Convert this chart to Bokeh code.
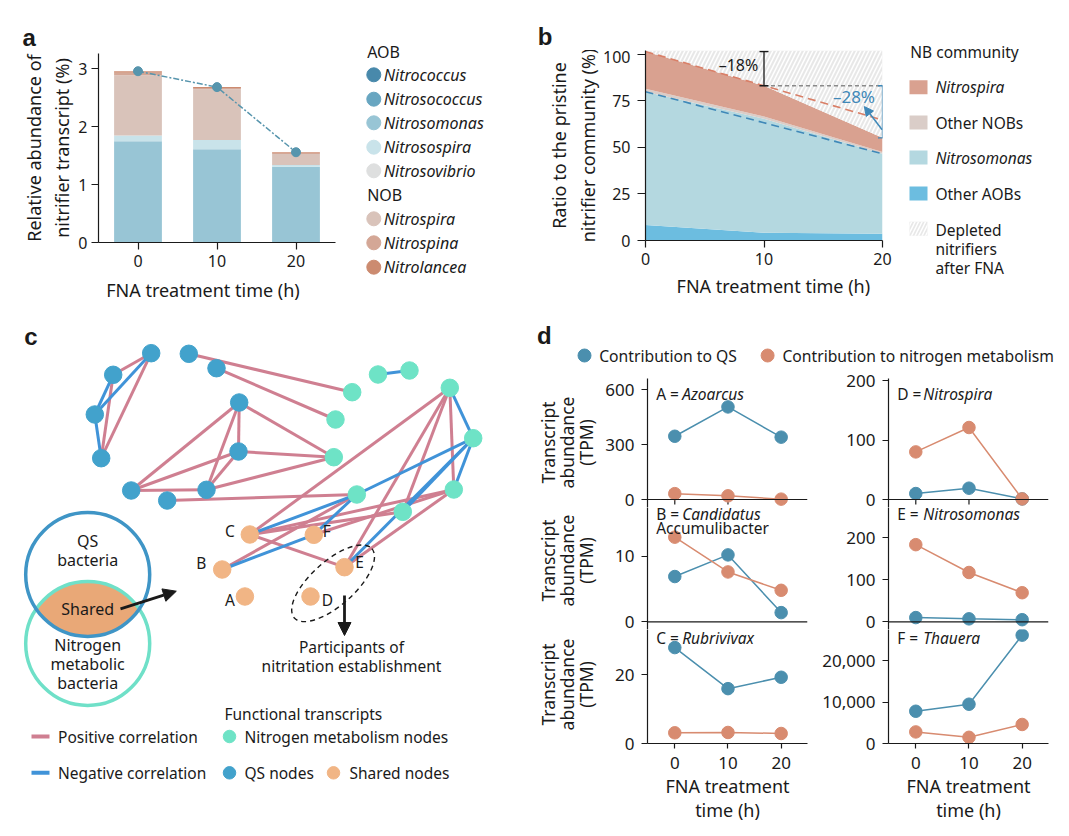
import numpy as np
from bokeh.plotting import figure
from bokeh.layouts import row, column
from bokeh.models import (Range1d, FixedTicker, NumeralTickFormatter, Span, Label,
                          Arrow, NormalHead, TeeHead, ColumnDataSource)
from bokeh.core.properties import value
from bokeh.embed import file_html
from bokeh.resources import INLINE

FONT = "Noto Sans"
LETTER_FONT = "Liberation Sans"
INK = "#1a1a1a"
NBSP = "\u00a0"

# ---------------- Panel a data ----------------
a_time = [0, 10, 20]
a_species = ["Nitrococcus", "Nitrosococcus", "Nitrosomonas", "Nitrosospira", "Nitrosovibrio",
             "Nitrospira", "Nitrospina", "Nitrolancea"]
a_nitrococcus = [0.0, 0.0, 0.0]
a_nitrosococcus = [0.0, 0.0, 0.0]
a_nitrosomonas = [1.75, 1.61, 1.31]
a_nitrosospira = [0.10, 0.16, 0.03]
a_nitrosovibrio = [0.0, 0.0, 0.0]
a_nitrospira = [1.04, 0.88, 0.19]
a_nitrospina = [0.045, 0.02, 0.015]
a_nitrolancea = [0.025, 0.015, 0.015]
a_colors = ["#4889ab", "#68a6c1", "#98c5d5", "#c9e3ea", "#dedfdf", "#d9c3ba", "#d4a796", "#cc8b70"]
a_yticks = [0, 1, 2, 3]

# ---------------- Panel b data ----------------
b_time = [0, 10, 20]
b_other_aob = [8.4, 4.1, 3.6]
b_nitrosomonas = [71.6, 61.3, 43.0]
b_other_nob = [1.6, 1.2, 1.0]
b_nitrospira = [20.0, 16.6, 7.6]
b_labels = ["Nitrospira", "Other NOBs", "Nitrosomonas", "Other AOBs"]
b_colors = ["#d9a190", "#dacdc8", "#b4d8e0", "#6cbde0"]
b_yticks = [0, 25, 50, 75, 100]
b_drop_texts = ["\u201318%", "\u201328%"]

# ---------------- Panel c data ----------------
node_name = ["Q1", "Q2", "Q3", "Q4", "Q5", "Q6", "Q7", "Q8", "Q9", "Q10", "Q11",
             "N1", "N2", "N3", "N4", "N5", "N6", "N7", "N8", "N9", "N10",
             "A", "B", "C", "D", "E", "F"]
node_x = [150.7, 112.7, 94.3, 100.7, 188.3, 216.0, 238.7, 238.0, 130.7, 166.7, 206.0,
          351.7, 335.0, 377.5, 409.0, 333.3, 449.3, 472.7, 356.3, 453.3, 402.3,
          244.4, 221.7, 249.3, 310.0, 344.0, 313.3]
node_y = [352.7, 374.3, 414.0, 457.7, 353.3, 367.7, 402.0, 451.0, 490.0, 500.0, 489.3,
          391.7, 419.0, 374.0, 370.0, 456.7, 387.3, 437.7, 494.0, 489.0, 511.3,
          596.0, 569.0, 534.0, 596.0, 566.7, 534.3]
node_kind = ["qs"] * 11 + ["nitrogen"] * 10 + ["shared"] * 6
pos_edges = [("Q1", "Q2"), ("Q1", "Q4"), ("Q2", "Q4"),
             ("Q5", "N1"), ("Q6", "N2"),
             ("Q7", "Q8"), ("Q7", "N5"), ("Q7", "Q9"), ("Q7", "Q11"), ("Q8", "N5"),
             ("Q8", "Q9"), ("Q8", "Q11"), ("Q9", "Q11"), ("Q11", "N5"), ("Q10", "N8"),
             ("N6", "C"), ("N6", "N9"), ("N6", "E"), ("N6", "N10"),
             ("C", "N9"), ("C", "N10"), ("C", "E"), ("B", "N8"), ("E", "N9"), ("F", "N9")]
neg_edges = [("Q1", "Q3"), ("Q2", "Q3"), ("Q3", "Q4"), ("N3", "N4"),
             ("N6", "N7"), ("N7", "N8"), ("N7", "N9"), ("N7", "E"), ("N7", "N10"),
             ("N8", "C"), ("B", "F"), ("F", "N8")]
shared_labels = ["A", "B", "C", "D", "E", "F"]

# ---------------- Panel d data ----------------
d_time = [0, 10, 20]
A_qs = [345, 505, 340]
A_nit = [32, 20, 2]
B_qs = [6.9, 10.2, 1.4]
B_nit = [12.9, 7.6, 4.8]
C_qs = [27.8, 15.9, 19.2]
C_nit = [3.1, 3.2, 2.9]
D_qs = [10, 19, 1]
D_nit = [80, 121, 1]
E_qs = [10, 7, 5]
E_nit = [183, 117, 69]
F_qs = [7800, 9500, 26200]
F_nit = [2800, 1500, 4600]
d_ylabel = ["Transcript", "abundance", "(TPM)"]

QS_C = "#4b8fae"
NIT_C = "#d88b70"


def style_axis(ax, tick_px, label_px, tick_out, standoff, label_standoff, line_h=1.2):
    ax.axis_line_color = INK
    ax.axis_line_width = 1.2
    ax.major_tick_line_color = INK
    ax.major_tick_line_width = 1.2
    ax.major_tick_in = 0
    ax.major_tick_out = tick_out
    ax.minor_tick_line_color = None
    ax.major_label_text_font = FONT
    ax.major_label_text_font_size = f"{tick_px}px"
    ax.major_label_text_color = INK
    ax.major_label_standoff = standoff
    ax.axis_label_text_font = FONT
    ax.axis_label_text_font_size = f"{label_px}px"
    ax.axis_label_text_font_style = "normal"
    ax.axis_label_text_color = INK
    ax.axis_label_standoff = label_standoff
    ax.axis_label_text_line_height = line_h


def clean(p):
    p.outline_line_color = None
    p.xgrid.visible = False
    p.ygrid.visible = False


def canvas(x0, x1, y0, y1):
    p = figure(width=x1 - x0, height=y1 - y0, x_range=Range1d(x0, x1), y_range=Range1d(y1, y0),
               x_axis_location=None, y_axis_location=None, min_border=0,
               output_backend="svg", toolbar_location=None)
    clean(p)
    return p


def txt(p, x, y, s, size=16, align="left", color=INK, style="normal", font=FONT, angle=0.0):
    p.text(x=[x], y=[y], text=[s], text_font=value(font), text_font_size=value(f"{size}px"),
           text_align=align, text_baseline="middle", text_color=color, text_font_style=style,
           angle=angle)


def lab(p, x, y, s, size=16, align="left", color=INK, style="normal", font=FONT, x_offset=0):
    p.add_layout(Label(x=x, y=y, text=s, text_font=font, text_font_size=f"{size}px",
                       text_align=align, text_baseline="middle", text_color=color,
                       text_font_style=style, x_offset=x_offset))


# ======================= Panel a =======================
strip_a = canvas(0, 350, 0, 53)
txt(strip_a, 28.7, 37.0, "a", 24, align="center", style="bold", font=LETTER_FONT)

pa = figure(frame_width=237, frame_height=189, x_range=Range1d(-5, 25), y_range=Range1d(0, 3.266),
            min_border_left=98, min_border_right=15, min_border_top=0, min_border_bottom=74,
            output_backend="svg", toolbar_location=None)
clean(pa)
src_a = ColumnDataSource(dict(t=a_time, Nitrococcus=a_nitrococcus, Nitrosococcus=a_nitrosococcus,
                              Nitrosomonas=a_nitrosomonas, Nitrosospira=a_nitrosospira,
                              Nitrosovibrio=a_nitrosovibrio, Nitrospira=a_nitrospira,
                              Nitrospina=a_nitrospina, Nitrolancea=a_nitrolancea))
pa.vbar_stack(a_species, x="t", width=6.05, color=a_colors, line_color=None, source=src_a)
a_total = np.sum([a_nitrococcus, a_nitrosococcus, a_nitrosomonas, a_nitrosospira, a_nitrosovibrio,
                  a_nitrospira, a_nitrospina, a_nitrolancea], axis=0)
pa.line(a_time, a_total, line_color="#5795ad", line_width=1.5, line_dash="6 2 2 2")
pa.scatter(a_time, a_total, size=9, color="#5795ad")
pa.xaxis.ticker = FixedTicker(ticks=a_time)
pa.yaxis.ticker = FixedTicker(ticks=a_yticks)
pa.xaxis.axis_label = "FNA treatment time (h)" + NBSP * 6
pa.yaxis.axis_label = "Relative abundance of\nnitrifier transcript (%)"
style_axis(pa.xaxis[0], 16, 18, 7, 5, 8)
style_axis(pa.yaxis[0], 16, 18, 7, 4, 1)

# legend a
pal = canvas(350, 530, 0, 316)
txt(pal, 366.7, 51, "AOB", 16)
txt(pal, 366.7, 194.3, "NOB", 16)
leg_a_y = [74.3, 98.7, 122.3, 146.7, 170.3, 218.3, 242.3, 266.7]
pal.scatter([373.3] * 8, leg_a_y, size=14, color=a_colors)
for yy, s in zip(leg_a_y, a_species):
    txt(pal, 383.3, yy, s, 16, style="italic")

# ======================= Panel b =======================
strip_b = canvas(530, 897, 0, 50)
txt(strip_b, 544.6, 36.0, "b", 24, align="center", style="bold", font=LETTER_FONT)

pb = figure(frame_width=237, frame_height=190, x_range=Range1d(0, 20), y_range=Range1d(0, 102.15),
            min_border_left=115, min_border_right=15, min_border_top=0, min_border_bottom=76,
            output_backend="svg", toolbar_location=None)
clean(pb)
src_b = ColumnDataSource(dict(t=b_time, other_aob=b_other_aob, nitrosomonas=b_nitrosomonas,
                              other_nob=b_other_nob, nitrospira=b_nitrospira))
pb.varea_stack(["other_aob", "nitrosomonas", "other_nob", "nitrospira"], x="t",
               color=[b_colors[3], b_colors[2], b_colors[1], b_colors[0]], source=src_b)
b_total = np.array(b_other_aob) + np.array(b_nitrosomonas) + np.array(b_other_nob) + np.array(b_nitrospira)
b_aob_top = np.array(b_other_aob) + np.array(b_nitrosomonas)
pb.varea(x=b_time, y1=b_total, y2=[pb.y_range.end] * 3, fill_color="#e8e8e8", fill_alpha=1.0)
pb.varea(x=b_time, y1=b_total, y2=[pb.y_range.end] * 3, fill_alpha=0.0,
         hatch_pattern="/", hatch_color="white", hatch_weight=1.5, hatch_scale=8)
b_proj = [b_total[0], b_total[0] + 2 * (b_total[1] - b_total[0])]
pb.line([b_time[0], b_time[2]], b_proj, line_color="#d97f67", line_width=1.6, line_dash="8 5")
pb.line([b_time[0], b_time[2]], [b_aob_top[0], b_aob_top[2]], line_color="#3f88b8",
        line_width=1.6, line_dash="8 5")
pb.line([b_time[1], b_time[2]], [b_total[1], b_total[1]], line_color="#8a8a8a", line_width=1.3,
        line_dash="4 3")
pb.add_layout(Arrow(start=TeeHead(size=9, line_width=1.3, line_color=INK),
                    end=TeeHead(size=9, line_width=1.3, line_color=INK),
                    x_start=b_time[1], y_start=b_total[0], x_end=b_time[1], y_end=b_total[1],
                    line_color=INK, line_width=1.3))
pb.add_layout(Arrow(start=TeeHead(size=9, line_width=1.3, line_color="#3f88b8"),
                    end=TeeHead(size=9, line_width=1.3, line_color="#3f88b8"),
                    x_start=b_time[2], y_start=b_total[1], x_end=b_time[2], y_end=b_total[2],
                    line_color="#3f88b8", line_width=1.3))
pb.add_layout(Arrow(end=NormalHead(size=9, fill_color="#3f88b8", line_color="#3f88b8"),
                    x_start=19.97, y_start=59.5, x_end=18.47, y_end=72.0,
                    line_color="#3f88b8", line_width=1.5))
lab(pb, 7.85, 94.1, b_drop_texts[0], 16, align="center")
lab(pb, 17.59, 77.4, b_drop_texts[1], 17, align="center", color="#3f88b8")
pb.xaxis.ticker = FixedTicker(ticks=b_time)
pb.yaxis.ticker = FixedTicker(ticks=b_yticks)
pb.xaxis.axis_label = NBSP * 4 + "FNA treatment time (h)"
pb.yaxis.axis_label = "Ratio to the pristine\nnitrifier community (%)"
style_axis(pb.xaxis[0], 16, 18, 7, 5, 6)
style_axis(pb.yaxis[0], 16, 18, 8, 7, 0)

# legend b
pbl = canvas(897, 1069, 0, 316)
txt(pbl, 909.8, 51.7, "NB community", 15.5)
leg_b_y = [86.7, 122, 157, 193]
pbl.rect(x=[918] * 4, y=leg_b_y, width=18, height=14, fill_color=b_colors, line_color=None)
pbl.rect(x=[918], y=[228.3], width=18, height=14, fill_color="#e8e8e8", line_color=None)
pbl.rect(x=[918], y=[228.3], width=18, height=14, fill_alpha=0.0, line_color=None,
         hatch_pattern="/", hatch_color="white", hatch_weight=1.5, hatch_scale=7)
for yy, s, st in zip(leg_b_y, b_labels, ["italic", "normal", "italic", "normal"]):
    txt(pbl, 934.9, yy, s, 15.5, style=st)
for yy, s in zip([229, 248, 267], ["Depleted", "nitrifiers", "after FNA"]):
    txt(pbl, 934.9, yy, s, 15.5)

# ======================= Panel c =======================
pc = canvas(0, 507, 316, 836)
idx = {n: i for i, n in enumerate(node_name)}
for edges, colr in [(pos_edges, "#cf7f91"), (neg_edges, "#4093d8")]:
    pc.segment(x0=[node_x[idx[a]] for a, b in edges], y0=[node_y[idx[a]] for a, b in edges],
               x1=[node_x[idx[b]] for a, b in edges], y1=[node_y[idx[b]] for a, b in edges],
               line_color=colr, line_width=3)
kind_color = {"qs": "#42a2cc", "nitrogen": "#6ee3c6", "shared": "#f1b585"}
pc.scatter(node_x, node_y, size=17.5, color=[kind_color[k] for k in node_kind])
lab_off = {"A": (-15, 3), "B": (-21, -7), "C": (-20, -4), "D": (17, 3), "E": (15, -5), "F": (13, -4)}
for s in shared_labels:
    dx, dy = lab_off[s]
    txt(pc, node_x[idx[s]] + dx, node_y[idx[s]] + dy, s, 15.5, align="center")

# Venn diagram
c1 = (87.2, 574.0)
c2 = (87.2, 643.0)
rv = 62.0
half = (c2[1] - c1[1]) / 2
t1 = np.arcsin(half / rv)
th1 = np.linspace(t1, np.pi - t1, 60)
th2 = np.linspace(np.pi + t1, 2 * np.pi - t1, 60)
lens_x = np.concatenate([c1[0] + rv * np.cos(th1), c2[0] + rv * np.cos(th2)])
lens_y = np.concatenate([c1[1] + rv * np.sin(th1), c2[1] + rv * np.sin(th2)])
pc.patch(lens_x, lens_y, fill_color="#e9a877", line_color=None)
pc.circle(x=[c2[0]], y=[c2[1]], radius=rv, fill_color=None, line_color="#6fe0c8", line_width=3.5)
pc.circle(x=[c1[0]], y=[c1[1]], radius=rv, fill_color=None, line_color="#3f95c6", line_width=3.5)
txt(pc, 87.2, 540, "QS", 16, align="center")
txt(pc, 87.2, 559, "bacteria", 16, align="center")
txt(pc, 87.2, 608, "Shared", 16, align="center")
txt(pc, 87.2, 644, "Nitrogen", 16, align="center")
txt(pc, 87.2, 663, "metabolic", 16, align="center")
txt(pc, 87.2, 682, "bacteria", 16, align="center")
pc.add_layout(Arrow(end=NormalHead(size=13, fill_color=INK, line_color=INK),
                    x_start=120, y_start=608.3, x_end=175.8, y_end=590.7,
                    line_color=INK, line_width=2.8))
pc.ellipse(x=[332.6], y=[582.8], width=104, height=44, angle=0.73, fill_color=None,
           line_color=INK, line_dash="5 4", line_width=1.4)
pc.add_layout(Arrow(end=NormalHead(size=13, fill_color=INK, line_color=INK),
                    x_start=344, y_start=595, x_end=344, y_end=635,
                    line_color=INK, line_width=2.8))
txt(pc, 351, 646.7, "Participants of", 15.5, align="center")
txt(pc, 351, 665.3, "nitritation establishment", 15.5, align="center")
txt(pc, 30.5, 336, "c", 24, align="center", style="bold", font=LETTER_FONT)
# legend c
txt(pc, 224, 713.3, "Functional transcripts", 15.5)
pc.segment(x0=[31, 31], y0=[736, 772.3], x1=[49, 49], y1=[736, 772.3],
           line_color=["#cf7f91", "#4093d8"], line_width=4)
txt(pc, 57.5, 736, "Positive correlation", 15.5)
txt(pc, 57.5, 772.3, "Negative correlation", 15.5)
pc.scatter([229, 229, 333], [736, 772.3, 772.3], size=12.5,
           color=[kind_color["nitrogen"], kind_color["qs"], kind_color["shared"]])
txt(pc, 244, 736, "Nitrogen metabolism nodes", 15.5)
txt(pc, 244, 772.3, "QS nodes", 15.5)
txt(pc, 349, 772.3, "Shared nodes", 15.5)

# ======================= Panel d =======================
pdl = canvas(507, 1069, 316, 368)
txt(pdl, 543.8, 335, "d", 24, align="center", style="bold", font=LETTER_FONT)
pdl.scatter([584, 767.1], [355, 355], size=13, color=[QS_C, NIT_C])
txt(pdl, 598.7, 355, "Contribution to QS", 15.7)
txt(pdl, 781.9, 355, "Contribution to nitrogen metabolism", 15.7)

# y-axis titles of the left column of panel d
pdy = canvas(507, 599, 368, 836)
for yc in [442.0, 560.0, 684.0]:
    for xx, s in zip([547.2, 566.1, 585.0], d_ylabel):
        txt(pdy, xx, yc, s, 17.5, align="center", angle=np.pi / 2)

XR = (-5.13, 24.95)


def dplot(qs, nit, zero_px, ppu, top_px, bot_px, yticks, left_col, has_x, title_pre, title_it,
          title_y, extra_line=None, base_ticks=True, fmt=None):
    border_top = 10 if top_px == 378 else 0
    border_bottom = 93 if has_x else 0
    p = figure(frame_width=160, frame_height=bot_px - top_px,
               x_range=Range1d(*XR),
               y_range=Range1d(-(bot_px - zero_px) / ppu, (zero_px - top_px) / ppu),
               x_axis_location="below" if has_x else None, y_axis_location="left",
               min_border_left=48 if left_col else 76, min_border_right=5 if left_col else 21,
               min_border_top=border_top, min_border_bottom=border_bottom,
               output_backend="svg", toolbar_location=None)
    clean(p)
    if not has_x:
        p.add_layout(Span(location=0, dimension="width", line_color=INK, line_width=1.2))
        if base_ticks:
            p.segment(x0=d_time, y0=[0] * 3, x1=d_time, y1=[-5 / ppu] * 3, line_color=INK, line_width=1.2)
    else:
        p.xaxis.ticker = FixedTicker(ticks=d_time)
        p.xaxis.axis_label = "FNA treatment\ntime (h)"
        style_axis(p.xaxis[0], 17, 18, 5, 8, 2, 1.0)
    p.yaxis.ticker = FixedTicker(ticks=yticks)
    if fmt:
        p.yaxis.formatter = NumeralTickFormatter(format=fmt)
    style_axis(p.yaxis[0], 17, 18, 6, 7, 5)
    p.line(d_time, qs, line_color=QS_C, line_width=1.5)
    p.scatter(d_time, qs, size=12.5, color=QS_C)
    p.line(d_time, nit, line_color=NIT_C, line_width=1.5)
    p.scatter(d_time, nit, size=12.5, color=NIT_C)
    ty = (zero_px - title_y) / ppu
    lab(p, -3.5, ty, title_pre, 15.5)
    lab(p, -3.5, ty, title_it, 15.5, style="italic", x_offset=26)
    if extra_line:
        lab(p, -3.5, (zero_px - extra_line[1]) / ppu, extra_line[0], 15.5)
    return p


dA = dplot(A_qs, A_nit, 499, 110 / 600, 378, 507, [0, 300, 600], True, False, "A = ", "Azoarcus", 393.3)
dB = dplot(B_qs, B_nit, 621.3, 6.56, 507, 629, [0, 10], True, False, "B = ", "Candidatus", 513.5,
           extra_line=("Accumulibacter", 527.0), base_ticks=False)
dC = dplot(C_qs, C_nit, 743, 3.45, 629, 743, [0, 20], True, True, "C = ", "Rubrivivax", 637.7)
dD = dplot(D_qs, D_nit, 499, 0.595, 378, 507, [0, 100, 200], False, False, "D = ", "Nitrospira", 393.3)
dE = dplot(E_qs, E_nit, 621.3, 0.4215, 507, 629, [0, 100, 200], False, False, "E = ", "Nitrosomonas", 513.5,
           base_ticks=False)
dF = dplot(F_qs, F_nit, 743, 0.004135, 629, 743, [0, 10000, 20000], False, True, "F = ", "Thauera", 637.7,
           fmt="0,0")

top_row = row(column(column(strip_a), column(pa), spacing=0), column(pal),
              column(column(strip_b), column(pb), spacing=0), column(pbl), spacing=0)
d_block = column(pdl, row(pdy, column(dA, dB, dC, spacing=0), column(dD, dE, dF, spacing=0), spacing=0),
                 spacing=0)
layout = column(top_row, row(pc, d_block, spacing=0), spacing=0)

open("out.html", "w").write(file_html(layout, INLINE))
